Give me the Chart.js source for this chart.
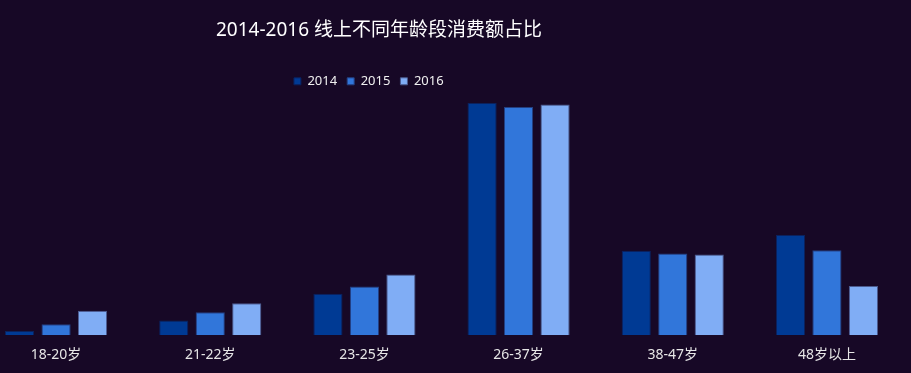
<!DOCTYPE html>
<html>
<head>
<meta charset="utf-8">
<script src="https://cdn.jsdelivr.net/npm/chart.js@4.4.1/dist/chart.umd.min.js"></script>
<style>
  html, body { margin: 0; padding: 0; background: #170826; overflow: hidden; }
  #wrap { position: absolute; left: -21px; top: 0; width: 925px; height: 373px; }
</style>
</head>
<body>
<div id="wrap"><canvas id="ageChart"></canvas></div>
<script>
const categories = ["18-20岁", "21-22岁", "23-25岁", "26-37岁", "38-47岁", "48岁以上"];
const years = ["2014", "2015", "2016"];
const share2014 = [0.9, 3.1, 8.7, 48.6, 17.7, 21.0];
const share2015 = [2.3, 4.8, 10.2, 47.8, 17.1, 17.8];
const share2016 = [5.1, 6.7, 12.7, 48.3, 16.9, 10.3];

const FONT = '"Noto Sans", "Noto Sans CJK SC", sans-serif';

// title and legend sit left of the canvas centre in the original
const shiftHeader = {
  id: "shiftHeader",
  afterLayout(chart) {
    const t = chart.titleBlock, l = chart.legend;
    if (t) { t.left -= 62.5; t.right -= 62.5; }
    if (l) { l.left -= 72.7; l.right -= 72.7; }
  }
};

function bar(label, data, fill, edge) {
  return {
    label,
    data,
    backgroundColor: fill,
    borderColor: edge,
    borderWidth: 1,
    categoryPercentage: 0.71,
    barPercentage: 0.8
  };
}

new Chart(document.getElementById("ageChart").getContext("2d"), {
  type: "bar",
  data: {
    labels: categories,
    datasets: [
      bar(years[0], share2014, "#003a94", "#0b215d"),
      bar(years[1], share2015, "#3176da", "#243f80"),
      bar(years[2], share2016, "#80adf5", "#4b5a8e")
    ]
  },
  plugins: [shiftHeader],
  options: {
    responsive: true,
    maintainAspectRatio: false,
    animation: false,
    layout: { padding: { left: 0, right: 0, top: 0, bottom: -1 } },
    scales: {
      x: {
        grid: { display: false, drawTicks: false },
        border: { display: false },
        ticks: { color: "#e6e6e6", font: { family: FONT, size: 14 }, padding: 11 }
      },
      y: {
        display: false,
        min: 0,
        max: 49.7
      }
    },
    plugins: {
      title: {
        display: true,
        text: "2014-2016 线上不同年龄段消费额占比",
        color: "#ffffff",
        font: { family: FONT, size: 19, weight: "normal" },
        padding: { top: 19, bottom: 23 }
      },
      legend: {
        display: true,
        labels: {
          color: "#f0f0f0",
          font: { family: FONT, size: 13 },
          boxWidth: 7,
          boxHeight: 7,
          padding: 10
        }
      },
      tooltip: { enabled: false }
    }
  }
});
</script>
</body>
</html>
